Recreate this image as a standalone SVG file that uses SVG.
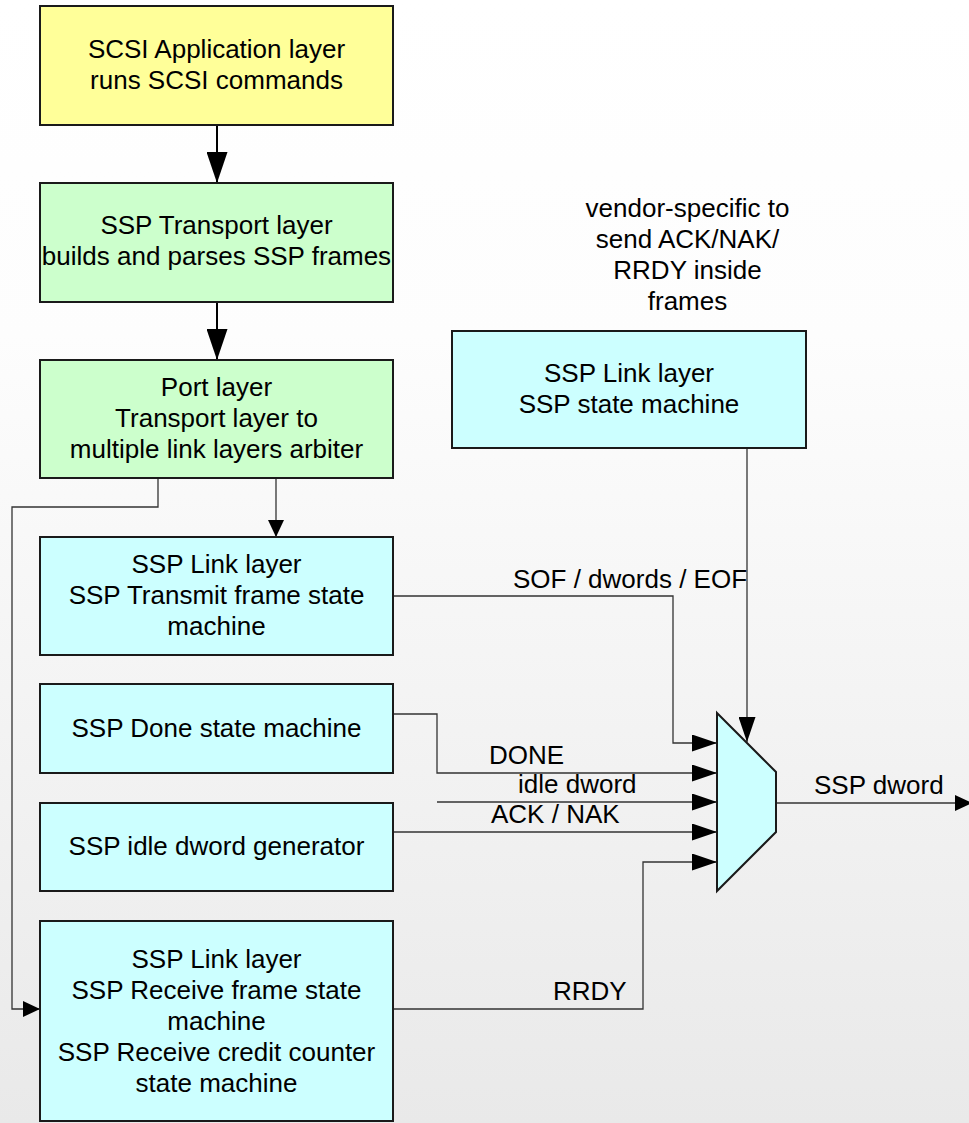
<svg xmlns="http://www.w3.org/2000/svg" width="969" height="1123" viewBox="0 0 969 1123">
<defs>
<linearGradient id="bg" x1="0" y1="0" x2="0" y2="1">
<stop offset="0" stop-color="#ffffff"/>
<stop offset="0.3" stop-color="#fdfdfd"/>
<stop offset="1" stop-color="#e9e9e9"/>
</linearGradient>
<marker id="big" markerUnits="userSpaceOnUse" markerWidth="31" markerHeight="21" refX="31" refY="10.5" orient="auto" viewBox="0 0 31 21">
<path d="M0,0 L31,10.5 L0,21 z" fill="#000"/>
</marker>
<marker id="small" markerUnits="userSpaceOnUse" markerWidth="17" markerHeight="16" refX="17" refY="8" orient="auto" viewBox="0 0 17 16">
<path d="M0,0 L17,8 L0,16 z" fill="#000"/>
</marker>
<marker id="mux" markerUnits="userSpaceOnUse" markerWidth="25" markerHeight="17" refX="25" refY="8.5" orient="auto" viewBox="0 0 25 17">
<path d="M0,0 L25,8.5 L0,17 z" fill="#000"/>
</marker>
</defs>
<style>
.box{stroke:#1a1a1a;stroke-width:2}
.y{fill:#ffff99}
.g{fill:#ccffcc}
.c{fill:#ccffff}
text{font-family:"Liberation Sans",Arial,sans-serif;font-size:26px;fill:#000}
.t{text-anchor:middle}
.ln{fill:none;stroke:#333;stroke-width:1.3}
.thick{fill:none;stroke:#000;stroke-width:2}
</style>
<rect x="0" y="0" width="969" height="1123" fill="url(#bg)"/>

<g id="connectors">
<line class="thick" x1="217" y1="125" x2="217" y2="183" marker-end="url(#big)"/>
<line class="thick" x1="217" y1="302" x2="217" y2="360" marker-end="url(#big)"/>
<path class="ln" d="M158,478 V507 H12 V1009 H40" marker-end="url(#small)"/>
<line class="ln" x1="276" y1="478" x2="276" y2="537" marker-end="url(#small)"/>
<path class="ln" d="M393,596 H673 V743 H717" marker-end="url(#mux)"/>
<path class="ln" d="M393,714 H437 V773 H717" marker-end="url(#mux)"/>
<path class="ln" d="M437,802 H717" marker-end="url(#mux)"/>
<path class="ln" d="M393,832 H717" marker-end="url(#mux)"/>
<path class="ln" d="M393,1009 H643 V862 H717" marker-end="url(#mux)"/>
<path class="ln" d="M747,448 V742" marker-end="url(#mux)"/>
<path class="ln" d="M776,803 H972" marker-end="url(#small)"/>
<text x="513" y="588">SOF / dwords / EOF</text>
<text x="489" y="764">DONE</text>
<text x="518" y="793">idle dword</text>
<text x="491" y="823">ACK / NAK</text>
<text x="553" y="1000">RRDY</text>
<text x="814" y="794">SSP dword</text>
</g>

<g id="app">
<rect class="box y" x="40" y="6" width="353" height="119"/>
<text class="t" x="216.5" y="58">SCSI Application layer</text>
<text class="t" x="216.5" y="89">runs SCSI commands</text>
</g>
<g id="transport">
<rect class="box g" x="40" y="183" width="353" height="119"/>
<text class="t" x="216.5" y="234">SSP Transport layer</text>
<text class="t" x="216.5" y="265">builds and parses SSP frames</text>
</g>
<g id="port">
<rect class="box g" x="40" y="360" width="353" height="118"/>
<text class="t" x="216.5" y="396">Port layer</text>
<text class="t" x="216.5" y="427">Transport layer to</text>
<text class="t" x="216.5" y="458">multiple link layers arbiter</text>
</g>
<g id="tx">
<rect class="box c" x="40" y="537" width="353" height="118"/>
<text class="t" x="216.5" y="573">SSP Link layer</text>
<text class="t" x="216.5" y="604">SSP Transmit frame state</text>
<text class="t" x="216.5" y="635">machine</text>
</g>
<g id="done">
<rect class="box c" x="40" y="684" width="353" height="89"/>
<text class="t" x="216.5" y="737">SSP Done state machine</text>
</g>
<g id="idle">
<rect class="box c" x="40" y="803" width="353" height="88"/>
<text class="t" x="216.5" y="855">SSP idle dword generator</text>
</g>
<g id="rx">
<rect class="box c" x="40" y="921" width="353" height="200"/>
<text class="t" x="216.5" y="968">SSP Link layer</text>
<text class="t" x="216.5" y="999">SSP Receive frame state</text>
<text class="t" x="216.5" y="1030">machine</text>
<text class="t" x="216.5" y="1061">SSP Receive credit counter</text>
<text class="t" x="216.5" y="1092">state machine</text>
</g>
<g id="sspsm">
<rect class="box c" x="452" y="331" width="354" height="117"/>
<text class="t" x="629" y="382">SSP Link layer</text>
<text class="t" x="629" y="413">SSP state machine</text>
</g>
<g id="vendor">
<text class="t" x="687.5" y="217">vendor-specific to</text>
<text class="t" x="687.5" y="248">send ACK/NAK/</text>
<text class="t" x="687.5" y="279">RRDY inside</text>
<text class="t" x="687.5" y="310">frames</text>
</g>
<g id="muxnode">
<polygon class="box c" points="717,713 776,772 776,832 717,891"/>
</g>
</svg>
